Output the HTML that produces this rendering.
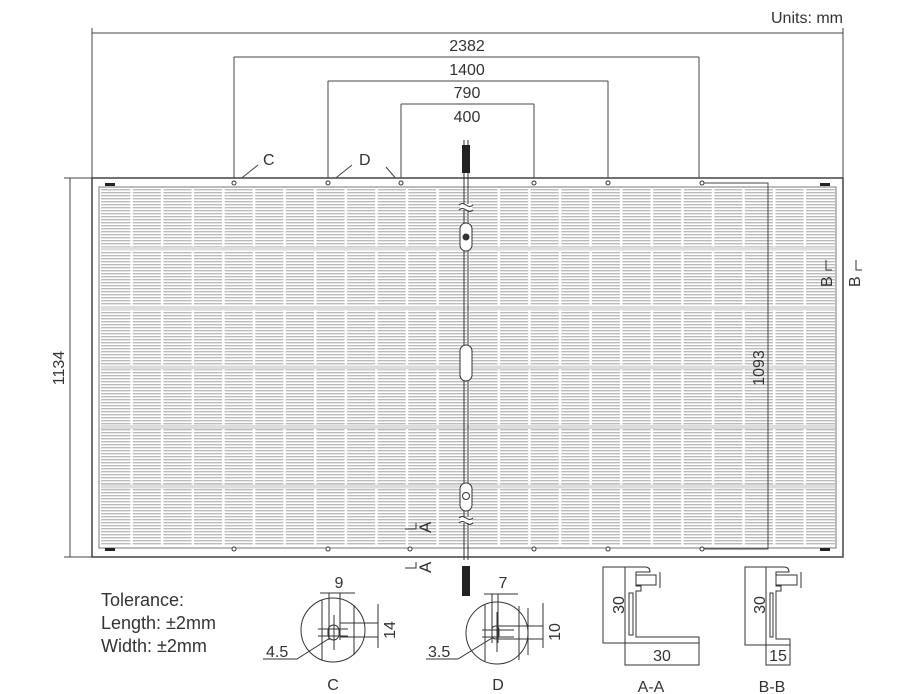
<!DOCTYPE html>
<html><head><meta charset="utf-8"><style>
html,body{margin:0;padding:0;background:#fff}
svg{display:block}
text{font-family:"Liberation Sans",sans-serif;fill:#333}
</style></head><body>
<svg width="923" height="694" viewBox="0 0 923 694" xmlns="http://www.w3.org/2000/svg">
<defs>
<pattern id="st" x="0" y="0" width="10" height="3" patternUnits="userSpaceOnUse">
<rect width="10" height="3" fill="#fff"/><rect y="0" width="10" height="1.4" fill="#bcbcbc"/>
</pattern>
</defs>
<text x="843" y="23" font-size="16" text-anchor="end">Units: mm</text>
<g stroke="#444" stroke-width="1" fill="none">
<line x1="92" y1="33" x2="843" y2="33"/>
<line x1="92" y1="28" x2="92" y2="178"/>
<line x1="843" y1="28" x2="843" y2="178"/>
<line x1="234" y1="57" x2="699" y2="57"/>
<line x1="234" y1="57" x2="234" y2="182"/>
<line x1="699" y1="57" x2="699" y2="182"/>
<line x1="328" y1="81" x2="608" y2="81"/>
<line x1="328" y1="81" x2="328" y2="182"/>
<line x1="608" y1="81" x2="608" y2="182"/>
<line x1="401" y1="104" x2="534" y2="104"/>
<line x1="401" y1="104" x2="401" y2="182"/>
<line x1="534" y1="104" x2="534" y2="182"/>
<line x1="70" y1="178" x2="70" y2="557"/>
<line x1="64" y1="178" x2="92" y2="178"/>
<line x1="64" y1="557" x2="92" y2="557"/>
<line x1="238" y1="181" x2="258" y2="165"/>
<line x1="332" y1="181" x2="352" y2="165"/>
<line x1="398" y1="181" x2="386" y2="167"/>
</g>
<text x="467" y="51" font-size="16" text-anchor="middle">2382</text>
<text x="467" y="75" font-size="16" text-anchor="middle">1400</text>
<text x="467" y="98" font-size="16" text-anchor="middle">790</text>
<text x="467" y="122" font-size="16" text-anchor="middle">400</text>
<text x="263" y="165" font-size="16">C</text>
<text x="359" y="165" font-size="16">D</text>
<text transform="translate(64,368) rotate(-90)" font-size="16" text-anchor="middle">1134</text>
<rect x="92" y="178" width="751" height="379" fill="#fff" stroke="#444" stroke-width="1.5"/>
<rect x="99" y="187" width="737" height="361" fill="#fff" stroke="#777" stroke-width="1"/>
<rect x="101" y="189" width="734" height="357" fill="url(#st)"/>
<g stroke="#fff" stroke-width="2.5">
<line x1="131.6" y1="189" x2="131.6" y2="546"/><line x1="162.2" y1="189" x2="162.2" y2="546"/>
<line x1="192.8" y1="189" x2="192.8" y2="546"/><line x1="223.4" y1="189" x2="223.4" y2="546"/>
<line x1="254" y1="189" x2="254" y2="546"/><line x1="284.6" y1="189" x2="284.6" y2="546"/>
<line x1="315.2" y1="189" x2="315.2" y2="546"/><line x1="345.8" y1="189" x2="345.8" y2="546"/>
<line x1="376.4" y1="189" x2="376.4" y2="546"/><line x1="407" y1="189" x2="407" y2="546"/>
<line x1="437.6" y1="189" x2="437.6" y2="546"/><line x1="468.2" y1="189" x2="468.2" y2="546"/>
<line x1="498.8" y1="189" x2="498.8" y2="546"/><line x1="529.4" y1="189" x2="529.4" y2="546"/>
<line x1="560" y1="189" x2="560" y2="546"/><line x1="590.6" y1="189" x2="590.6" y2="546"/>
<line x1="621.2" y1="189" x2="621.2" y2="546"/><line x1="651.8" y1="189" x2="651.8" y2="546"/>
<line x1="682.4" y1="189" x2="682.4" y2="546"/><line x1="713" y1="189" x2="713" y2="546"/>
<line x1="743.6" y1="189" x2="743.6" y2="546"/><line x1="774.2" y1="189" x2="774.2" y2="546"/>
<line x1="804.8" y1="189" x2="804.8" y2="546"/>
</g>
<g stroke="#ddd" stroke-width="4">
<line x1="101" y1="248.5" x2="835" y2="248.5"/><line x1="101" y1="308" x2="835" y2="308"/>
<line x1="101" y1="367.5" x2="835" y2="367.5"/><line x1="101" y1="427" x2="835" y2="427"/>
<line x1="101" y1="486.5" x2="835" y2="486.5"/>
</g>
<g fill="#fff" stroke="#333" stroke-width="1">
<circle cx="234" cy="183" r="2"/><circle cx="328" cy="183" r="2"/><circle cx="401" cy="183" r="2"/>
<circle cx="534" cy="183" r="2"/><circle cx="608" cy="183" r="2"/><circle cx="702" cy="183" r="2"/>
<circle cx="234" cy="549" r="2"/><circle cx="328" cy="549" r="2"/><circle cx="410" cy="549" r="2"/>
<circle cx="534" cy="549" r="2"/><circle cx="608" cy="549" r="2"/><circle cx="702" cy="549" r="2"/>
</g>
<g fill="#222"><rect x="105" y="183" width="10" height="3"/><rect x="820" y="183" width="10" height="3"/>
<rect x="105" y="548" width="10" height="3"/><rect x="820" y="548" width="10" height="3"/></g>
<g stroke="#444" fill="none" stroke-width="1">
<polyline points="704,183 768,183 768,549 704,549"/>
</g>
<text transform="translate(764,368) rotate(-90)" font-size="16" text-anchor="middle">1093</text>
<g stroke="#333" fill="none"><polyline points="826,260 826,270 832,270"/><polyline points="856,260 856,270 862,270"/></g>
<text transform="translate(832,287) rotate(-90)" font-size="16">B</text>
<text transform="translate(860,287) rotate(-90)" font-size="16">B</text>
<g stroke="#333" fill="none"><polyline points="405,529 416,529 416,523"/><polyline points="405,568 416,568 416,562"/></g>
<text transform="translate(431,533) rotate(-90)" font-size="17">A</text>
<text transform="translate(431,573) rotate(-90)" font-size="17">A</text>
<g stroke="#333" fill="none" stroke-width="1">
<line x1="464" y1="140" x2="464" y2="560"/><line x1="468" y1="140" x2="468" y2="560"/>
</g>
<rect x="462" y="145" width="8" height="28" fill="#222"/>
<rect x="462" y="566" width="8" height="30" fill="#222"/>
<g fill="#fff" stroke="#333">
<rect x="460" y="223" width="12" height="28" rx="6"/>
<rect x="460" y="345" width="12" height="36" rx="6"/>
<rect x="460" y="483" width="12" height="28" rx="6"/>
</g>
<circle cx="466" cy="237" r="3.5" fill="#333"/><circle cx="466" cy="496" r="3.5" fill="none" stroke="#333"/>
<rect x="460" y="204" width="12" height="6" fill="#fff"/><rect x="460" y="517" width="12" height="6" fill="#fff"/>
<g fill="none" stroke="#333"><path d="M459,205 q3,-3 7,0 t7,0"/><path d="M459,210 q3,-3 7,0 t7,0"/><path d="M459,518 q3,-3 7,0 t7,0"/><path d="M459,523 q3,-3 7,0 t7,0"/></g>
<text x="101" y="606" font-size="18">Tolerance:</text>
<text x="101" y="629" font-size="18">Length: ±2mm</text>
<text x="101" y="652" font-size="18">Width:  ±2mm</text>
<g stroke="#333" fill="none" stroke-width="1">
<circle cx="333" cy="630" r="32"/>
<line x1="320" y1="593" x2="355" y2="593"/>
<line x1="322" y1="600" x2="322" y2="660"/><line x1="329" y1="593" x2="329" y2="640"/>
<line x1="340" y1="593" x2="340" y2="640"/><line x1="354" y1="605" x2="354" y2="655"/>
<rect x="328" y="625" width="11" height="15" rx="5.5"/>
<line x1="318" y1="629" x2="348" y2="629"/><line x1="318" y1="636" x2="348" y2="636"/>
<line x1="334" y1="615" x2="334" y2="650"/>
<line x1="378" y1="604" x2="378" y2="648"/>
<line x1="340" y1="623" x2="378" y2="623"/><line x1="340" y1="637" x2="378" y2="637"/>
<polyline points="330,638 297,659 263,659"/>
</g>
<text x="339" y="588" font-size="16" text-anchor="middle">9</text>
<text transform="translate(395,630) rotate(-90)" font-size="16" text-anchor="middle">14</text>
<text x="266" y="657" font-size="16">4.5</text>
<text x="333" y="690" font-size="16" text-anchor="middle">C</text>
<g stroke="#333" fill="none" stroke-width="1">
<circle cx="497" cy="633" r="31"/>
<line x1="484" y1="594" x2="518" y2="594"/>
<line x1="485" y1="605" x2="485" y2="662"/><line x1="492" y1="594" x2="492" y2="643"/>
<line x1="498" y1="594" x2="498" y2="643"/><line x1="519" y1="606" x2="519" y2="660"/>
<line x1="528" y1="608" x2="528" y2="655"/>
<rect x="492" y="626" width="7" height="13" rx="3.5"/>
<line x1="482" y1="630" x2="514" y2="630"/><line x1="482" y1="637" x2="514" y2="637"/>
<line x1="497" y1="612" x2="497" y2="652"/>
<line x1="543" y1="603" x2="543" y2="648"/>
<line x1="498" y1="626" x2="543" y2="626"/><line x1="498" y1="639" x2="543" y2="639"/>
<polyline points="492,638 458,659 426,659"/>
</g>
<text x="503" y="588" font-size="16" text-anchor="middle">7</text>
<text transform="translate(560,632) rotate(-90)" font-size="16" text-anchor="middle">10</text>
<text x="428" y="657" font-size="16">3.5</text>
<text x="498" y="690" font-size="16" text-anchor="middle">D</text>
<g stroke="#333" fill="none" stroke-width="1">
<polyline points="625,567 603,567 603,643 625,643"/>
<polyline points="625,643 625,665 699,665 699,643"/>
<path d="M625,643 L625,567 L645,567 Q650,567 650,572 L636,572 L636,586 L641,586 L641,591 L636,591 L636,637 L699,637 L699,643 Z"/>
<path d="M629,593 h4 v42 h-4z"/>
<path d="M636,575 h20 v10 h-20"/><line x1="660" y1="572" x2="660" y2="588"/>
</g>
<text transform="translate(624,605) rotate(-90)" font-size="16" text-anchor="middle">30</text>
<text x="662" y="661" font-size="16" text-anchor="middle">30</text>
<text x="651" y="692" font-size="16" text-anchor="middle">A-A</text>
<g stroke="#333" fill="none" stroke-width="1">
<polyline points="766,567 745,567 745,645 766,645"/>
<polyline points="766,645 766,665 790,665 790,645"/>
<path d="M766,645 L766,567 L784,567 Q789,567 789,572 L776,572 L776,586 L781,586 L781,591 L776,591 L776,639 L790,639 L790,645 Z"/>
<path d="M770,593 h3 v44 h-3z"/>
<path d="M776,575 h21 v10 h-21"/><line x1="801" y1="572" x2="801" y2="588"/>
</g>
<text transform="translate(765,605) rotate(-90)" font-size="16" text-anchor="middle">30</text>
<text x="778" y="661" font-size="16" text-anchor="middle">15</text>
<text x="772" y="692" font-size="16" text-anchor="middle">B-B</text>
</svg>
</body></html>
